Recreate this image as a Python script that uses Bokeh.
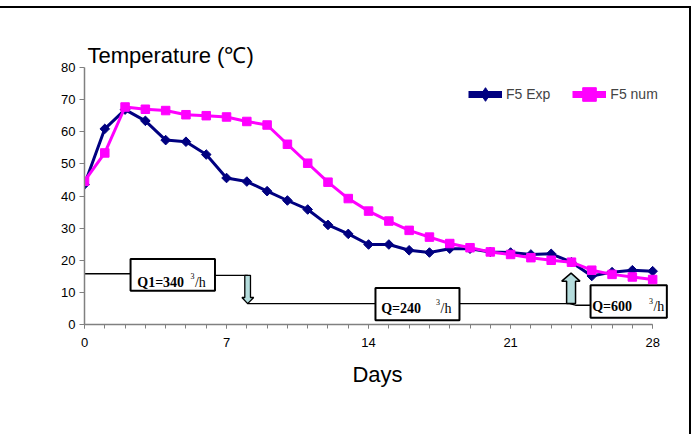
import math
from bokeh.plotting import figure
from bokeh.models import (Range1d, FixedTicker, Legend, LegendItem, ColumnDataSource)
from bokeh.core.properties import value
from bokeh.embed import file_html
from bokeh.resources import INLINE

# ---------------- data ----------------
days = list(range(29))
f5_exp = [43.6, 60.9, 66.9, 63.4, 57.4, 56.9, 52.9, 45.6, 44.5, 41.5,
          38.6, 35.8, 31.0, 28.2, 24.9, 24.9, 23.1, 22.4, 23.6, 23.6,
          22.6, 22.4, 21.8, 22.0, 19.4, 15.1, 16.3, 16.9, 16.6]
f5_num = [44.6, 53.4, 67.7, 67.0, 66.6, 65.3, 65.0, 64.6, 63.2, 62.1,
          56.1, 50.2, 44.3, 39.2, 35.3, 32.2, 29.3, 27.2, 25.2, 23.9,
          22.6, 21.8, 20.8, 20.0, 19.4, 16.9, 15.6, 14.8, 14.0]
x_major_ticks = [0, 7, 14, 21, 28]
x_minor_ticks = list(range(29))
y_ticks = [0, 10, 20, 30, 40, 50, 60, 70, 80]

# flow-rate annotation (step line, boxes, arrows)
flow_line1_x = [0, 2.27, 6.46, 8.05]
flow_line1_y = [15.8, 15.8, 15.3, 15.3]
flow_line2_x = [8.02, 23.9, 24.2, 24.94]
flow_line2_y = [6.5, 6.5, 6.0, 6.0]
box_left = [2.27, 14.34, 24.94]
box_right = [6.43, 18.48, 28.70]
box_top = [20.4, 11.4, 12.2]
box_bottom = [10.5, 1.3, 2.1]
q_text = ["Q1=340", "Q=240", "Q=600"]
q_text_x = [2.60, 14.62, 25.02]
q_text_y = [13.0, 4.97, 5.47]
sup_text = ["3", "3", "3"]
sup_y = [15.0, 6.97, 7.47]
unit_text = ["/h", "/h", "/h"]
unit_x = [5.44, 17.55, 28.04]
unit_y = [13.0, 4.97, 5.47]
down_arrow_x = [7.90, 8.18, 8.18, 8.34, 8.04, 7.76, 7.90]
down_arrow_y = [15.3, 15.3, 8.4, 8.4, 6.5, 8.4, 8.4]
up_arrow_x = [23.76, 24.20, 24.20, 24.42, 23.98, 23.52, 23.76]
up_arrow_y = [6.5, 6.5, 13.5, 13.5, 16.0, 13.5, 13.5]

# ---------------- figure ----------------
p = figure(width=691, height=428, output_backend="svg", toolbar_location=None,
           x_range=Range1d(0, 28.88), y_range=Range1d(0, 80),
           min_border_left=84, min_border_right=21, min_border_top=59,
           min_border_bottom=112, background_fill_color="white",
           border_fill_color="white", title="Temperature (℃)")
p.styles = {"margin-top": "6px", "border-top": "2px solid black",
            "border-right": "2px solid black"}
p.outline_line_color = None
p.xgrid.visible = False
p.ygrid.visible = False

p.title.align = "left"
p.title.offset = 3
p.title.standoff = 0
p.title.text_font = "Liberation Sans"
p.title.text_font_size = "22px"
p.title.text_font_style = "normal"
p.title.text_color = "black"

axis_col = "#808080"

p.xaxis.bounds = (0, 28)
p.xaxis.ticker = FixedTicker(ticks=x_major_ticks, minor_ticks=x_minor_ticks)
p.xaxis.major_tick_out = 4
p.xaxis.major_tick_in = 0
p.xaxis.minor_tick_out = 4
p.xaxis.minor_tick_in = 0
p.xaxis.major_label_standoff = 9
p.xaxis.axis_label = "Days"
p.xaxis.axis_label_text_font = "Liberation Sans"
p.xaxis.axis_label_text_font_size = "22px"
p.xaxis.axis_label_text_font_style = "normal"
p.xaxis.axis_label_text_color = "black"
p.xaxis.axis_label_standoff = 12
p.yaxis.ticker = FixedTicker(ticks=y_ticks)
p.yaxis.minor_tick_line_color = None
p.yaxis.major_tick_out = 5
p.yaxis.major_tick_in = 0
p.yaxis.major_label_standoff = 4
for ax in (p.xaxis, p.yaxis):
    ax.axis_line_color = axis_col
    ax.axis_line_width = 1.5
    ax.major_tick_line_color = axis_col
    ax.major_label_text_font = "Liberation Sans"
    ax.major_label_text_font_size = "13px"
    ax.major_label_text_color = "black"
p.xaxis.minor_tick_line_color = axis_col

# flow annotation
p.line(flow_line1_x, flow_line1_y, line_color="black", line_width=1.3)
p.line(flow_line2_x, flow_line2_y, line_color="black", line_width=1.3)
p.quad(left=box_left, right=box_right, top=box_top, bottom=box_bottom,
       fill_color="white", line_color="black", line_width=2)
serif = value("Liberation Serif")
p.text(q_text_x, q_text_y, text=q_text, text_font=serif, text_font_size="14px",
       text_font_style="bold", text_baseline="alphabetic", text_color="black")
p.text(unit_x, sup_y, text=sup_text, text_font=serif, text_font_size="8px",
       text_baseline="alphabetic", text_align="right", x_offset=-0.5,
       text_color="black")
p.text(unit_x, unit_y, text=unit_text, text_font=serif, text_font_size="14px",
       text_baseline="alphabetic", text_color="black")
p.patch(down_arrow_x, down_arrow_y, fill_color="#B4DCDC", line_color="black", line_width=1.3)
p.patch(up_arrow_x, up_arrow_y, fill_color="#B4DCDC", line_color="black", line_width=1.5)

# data series
src = ColumnDataSource(dict(days=days, exp=f5_exp, num=f5_num))
navy = "#000080"
mag = "#FF00FF"
p.line("days", "exp", source=src, line_color=navy, line_width=3)
p.scatter("days", "exp", source=src, marker="square", size=6.8, angle=math.pi / 4,
          fill_color=navy, line_color=navy)
p.line("days", "num", source=src, line_color=mag, line_width=3)
p.scatter("days", "num", source=src, marker="square", size=8.5,
          fill_color=mag, line_color=mag)

# legend-only renderers (thicker Excel-style legend keys, no visible data)
nan_src = ColumnDataSource(dict(x=[float("nan")], y=[float("nan")]))
le1 = p.line("x", "y", source=nan_src, line_color=navy, line_width=7)
ls1 = p.scatter("x", "y", source=nan_src, marker="diamond", fill_color=navy, line_color=navy)
le2 = p.line("x", "y", source=nan_src, line_color=mag, line_width=7)
ls2 = p.scatter("x", "y", source=nan_src, marker="square", fill_color=mag, line_color=mag)

legend = Legend(items=[LegendItem(label="F5 Exp", renderers=[le1, ls1]),
                       LegendItem(label="F5 num", renderers=[le2, ls2])],
                orientation="horizontal", location=(384, 210),
                glyph_width=34, glyph_height=40, label_standoff=4, spacing=22,
                padding=0, margin=0, border_line_color=None,
                background_fill_alpha=0, label_text_font="Liberation Sans",
                label_text_font_size="14px", label_height=40)
p.add_layout(legend)

open("out.html", "w").write(file_html(p, INLINE))
